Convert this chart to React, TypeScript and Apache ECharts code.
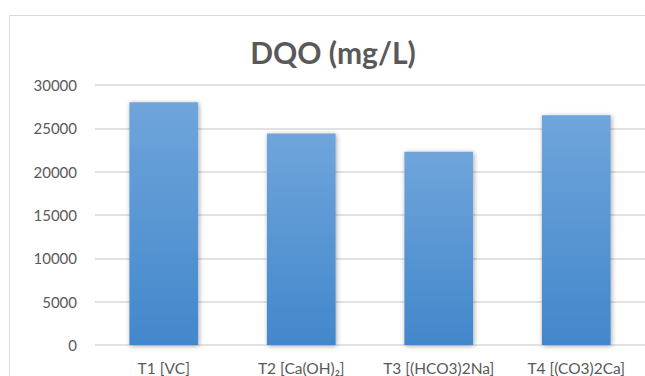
import React, { useEffect, useRef } from "react";
import * as echarts from "echarts";

const categories = ["T1 [VC]", "T2 [Ca(OH)\u2082]", "T3 [(HCO3)2Na]", "T4 [(CO3)2Ca]"];
const dqoValues = [28000, 24400, 22300, 26500];
const yTicks = { min: 0, max: 30000, interval: 5000 };

const FONT = "Lato, 'Noto Sans', sans-serif";
const TEXT_COLOR = "#595959";

export default function App() {
  const ref = useRef<HTMLDivElement>(null);

  useEffect(() => {
    if (!ref.current) return;
    const chart = echarts.init(ref.current, undefined, { renderer: "svg" });
    chart.setOption({
      animation: false,
      backgroundColor: "#ffffff",
      textStyle: { fontFamily: FONT },
      graphic: [
        {
          type: "rect",
          shape: { x: 9.5, y: 15.5, width: 700, height: 400 },
          style: { fill: "none", stroke: "#d9d9d9", lineWidth: 1 },
          silent: true,
        },
      ],
      title: {
        text: "DQO (mg/L)",
        left: 328,
        top: 32,
        textAlign: "center",
        textStyle: {
          fontFamily: FONT,
          fontWeight: "bold",
          fontSize: 30,
          color: TEXT_COLOR,
        },
      },
      grid: { left: 95, right: -1.5, top: 85, bottom: 28.7 },
      xAxis: {
        type: "category",
        data: categories,
        axisLine: { show: false },
        axisTick: { show: false },
        axisLabel: {
          color: TEXT_COLOR,
          fontFamily: FONT,
          fontSize: 15.5,
          margin: 15,
          interval: 0,
        },
      },
      yAxis: {
        type: "value",
        min: yTicks.min,
        max: yTicks.max,
        interval: yTicks.interval,
        axisLine: { show: false },
        axisTick: { show: false },
        splitLine: { lineStyle: { color: "#d9d9d9", width: 1.5 } },
        axisLabel: {
          color: TEXT_COLOR,
          fontFamily: FONT,
          fontSize: 15,
          margin: 18,
          formatter: (v: number) => String(v),
        },
      },
      series: [
        {
          type: "bar",
          data: dqoValues,
          barWidth: "50%",
          itemStyle: {
            color: new echarts.graphic.LinearGradient(0, 0, 0, 1, [
              { offset: 0, color: "#6fa5db" },
              { offset: 1, color: "#4287cb" },
            ]),
            shadowBlur: 5,
            shadowColor: "rgba(0,0,0,0.35)",
            shadowOffsetX: 1,
            shadowOffsetY: 1,
          },
        },
      ],
    });
    return () => chart.dispose();
  }, []);

  return (
    <div
      ref={ref}
      style={{ position: "fixed", left: 0, top: 0, width: 645, height: 376 }}
    />
  );
}
